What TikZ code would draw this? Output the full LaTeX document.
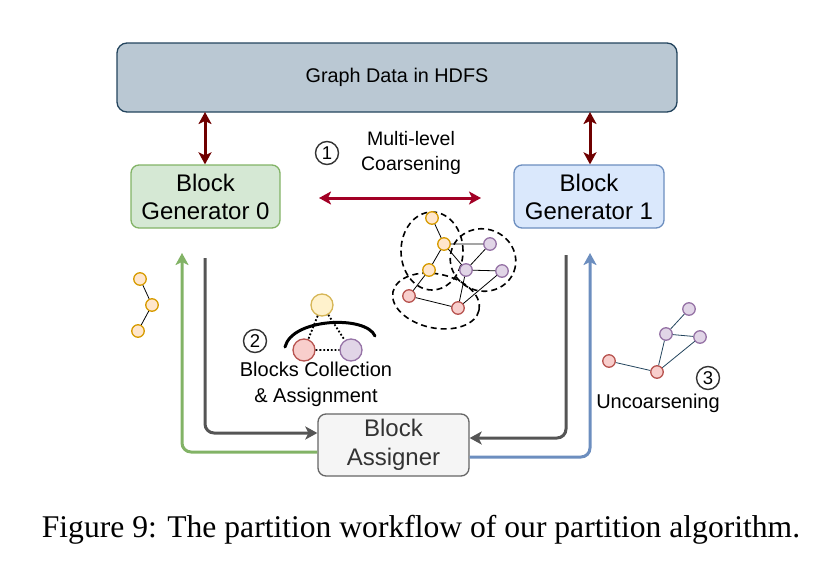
\documentclass[tikz,border=0pt]{standalone}
\usepackage{fontspec}
\setmainfont{Liberation Sans}
\newfontfamily\capfont{Liberation Serif}
\usetikzlibrary{arrows.meta}
\definecolor{topfill}{HTML}{BAC8D3}
\definecolor{topdraw}{HTML}{23445D}
\definecolor{gfill}{HTML}{D5E8D4}
\definecolor{gdraw}{HTML}{82B366}
\definecolor{bfill}{HTML}{DAE8FC}
\definecolor{bdraw}{HTML}{6C8EBF}
\definecolor{afill}{HTML}{F5F5F5}
\definecolor{adraw}{HTML}{666666}
\definecolor{atext}{HTML}{333333}
\definecolor{maroon}{HTML}{6F0000}
\definecolor{crim}{HTML}{A20025}
\definecolor{darkg}{HTML}{555555}
\definecolor{yfill}{HTML}{FFE6CC}
\definecolor{ydraw}{HTML}{D79B00}
\definecolor{pfill}{HTML}{E1D5E7}
\definecolor{pdraw}{HTML}{9673A6}
\definecolor{rfill}{HTML}{F8CECC}
\definecolor{rdraw}{HTML}{B85450}
\definecolor{y2fill}{HTML}{FFF2CC}
\definecolor{y2draw}{HTML}{D6B656}
\tikzset{
  box/.style={draw, rounded corners=8pt, line width=1.3pt, align=center, inner sep=0pt},
  gn/.style={circle, minimum size=12.5pt, inner sep=0pt, line width=1.3pt},
  yn/.style={gn, fill=yfill, draw=ydraw},
  pn/.style={gn, fill=pfill, draw=pdraw},
  rn/.style={gn, fill=rfill, draw=rdraw},
  edge/.style={line width=0.8pt, draw=black},
  edgeb/.style={line width=0.8pt, draw=topdraw},
  num/.style={circle, draw=black!80, line width=1.4pt, minimum size=23pt, inner sep=0pt, font=\fontsize{18.5}{18.5}\selectfont},
  flow/.style={line width=3pt, rounded corners=9pt},
  tip/.style={-{Triangle[length=12pt,width=13pt,inset=3pt]}},
  dtip/.style={{Triangle[length=12pt,width=13pt,inset=3pt]}-{Triangle[length=12pt,width=13pt,inset=3pt]}},
  cl/.style={draw, dash pattern=on 6pt off 4pt, line width=1.6pt},
}
\begin{document}
\begin{tikzpicture}[x=1pt,y=-1pt]
\useasboundingbox (0,0) rectangle (829,570);
% boxes
\node[box, fill=topfill, draw=topdraw, rounded corners=10pt, minimum width=560pt, minimum height=69pt, font=\fontsize{19.8}{22}\selectfont] (hdfs) at (397,77.5) {Graph Data in HDFS};
\node[box, fill=gfill, draw=gdraw, minimum width=149pt, minimum height=63pt, font=\fontsize{24}{28}\selectfont] (g0) at (205.5,196.5) {Block\\Generator 0};
\node[box, fill=bfill, draw=bdraw, minimum width=150pt, minimum height=63pt, font=\fontsize{24}{28}\selectfont] (g1) at (589,196.5) {Block\\Generator 1};
\node[box, fill=afill, draw=adraw, text=atext, minimum width=151pt, minimum height=62pt, font=\fontsize{24}{29}\selectfont] (ba) at (393.5,445) {Block\\Assigner};
% vertical double arrows
\coordinate (h0) at (205,112);
\coordinate (h1) at (590,112);
\draw[maroon, line width=3pt, dtip] (h0) -- (h0 |- g0.north);
\draw[maroon, line width=3pt, dtip] (h1) -- (h1 |- g1.north);
% coarsening arrow
\coordinate (cL) at (319,198);
\coordinate (cR) at (481,198);
\draw[crim, line width=3pt, dtip] (cL) -- (cR);
\node[num] (n1) at (327,153) {1};
\node[align=center, font=\fontsize{19.5}{25}\selectfont] (t1) at (411,153) {Multi-level\\Coarsening};
% gray flows
\coordinate (gs0) at (205,258);
\coordinate (gs1) at (566,255);
\draw[darkg, flow, tip] (gs0) |- ([yshift=12pt]ba.west);
\draw[darkg, flow, tip] (gs1) |- ([yshift=7pt]ba.east);
% green / blue flows
\coordinate (ge) at (182,253);
\coordinate (be) at (590,253);
\draw[gdraw, flow, tip] ([yshift=-7pt]ba.west) -| (ge);
\draw[bdraw, flow, tip] ([yshift=-12pt]ba.east) -| (be);
% middle graph clusters
\draw[cl] (432,251) ellipse [x radius=31pt, y radius=39pt];
\draw[cl, rotate around={-20:(483,260)}] (483,260) ellipse [x radius=33pt, y radius=31pt];
\draw[cl, rotate around={-12:(436,301)}] (436,301) ellipse [x radius=44pt, y radius=27pt];
\node[yn] (a1) at (432,218) {};
\node[yn] (a2) at (444,244) {};
\node[yn] (a3) at (429,270) {};
\node[pn] (a4) at (490,244) {};
\node[pn] (a5) at (466,270) {};
\node[pn] (a6) at (502,271) {};
\node[rn] (a7) at (409,296) {};
\node[rn] (a8) at (458,308) {};
\draw[edge] (a1)--(a2) (a2)--(a3) (a2)--(a5) (a2)--(a4) (a4)--(a5) (a5)--(a6) (a3)--(a7) (a7)--(a8) (a8)--(a5) (a8)--(a6);
% left small graph
\node[yn] (l1) at (140,279) {};
\node[yn] (l2) at (152,305) {};
\node[yn] (l3) at (138,331) {};
\draw[edge] (l1)--(l2) (l2)--(l3);
% blocks collection icon
\draw[line width=3pt, line cap=round] (285,347) .. controls (292,318) and (366,315) .. (375,336);
\node[gn, minimum size=22pt, fill=y2fill, draw=y2draw] (b1) at (322,305) {};
\node[gn, minimum size=22pt, fill=rfill, draw=rdraw] (b2) at (304,350) {};
\node[gn, minimum size=22pt, fill=pfill, draw=pdraw] (b3) at (351,350) {};
\draw[line width=1.8pt, dotted] (b1)--(b2) (b1)--(b3) (b2)--(b3);
\node[num] (n2) at (255,341) {2};
\node[align=center, font=\fontsize{20}{26}\selectfont] (t2) at (316,384) {Blocks Collection\\\& Assignment};
% uncoarsening graph
\node[pn] (u1) at (689,309) {};
\node[pn] (u2) at (666,334) {};
\node[pn] (u3) at (700,337) {};
\node[rn] (u4) at (609,361) {};
\node[rn] (u5) at (657,372) {};
\draw[edgeb] (u1)--(u2) (u2)--(u3) (u2)--(u5) (u3)--(u5) (u4)--(u5);
\node[num] (n3) at (708,378) {3};
\node[font=\fontsize{20}{22}\selectfont] (t3) at (658,403) {Uncoarsening};
% caption
\node[font=\capfont\fontsize{31.6}{34}\selectfont] (cap) at (421,530) {Figure 9: The partition workflow of our partition algorithm.};
\end{tikzpicture}
\end{document}
